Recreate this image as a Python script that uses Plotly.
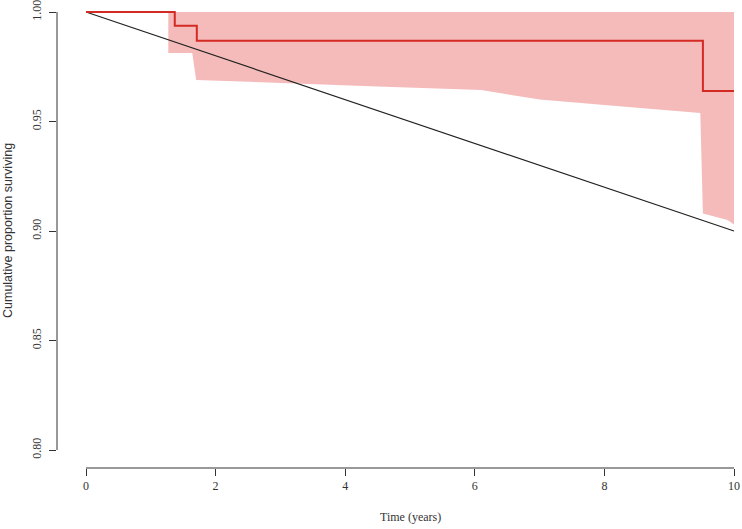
import plotly.graph_objects as go

# Kaplan-Meier estimate
km_time = [0, 1.37, 1.71, 9.52, 10.0]
km_surv = [1.0, 0.9937, 0.9869, 0.9639, 0.9639]

# confidence band
ci_time = [1.27, 1.64, 1.70, 3.0, 4.5, 6.1, 7.0, 8.0, 9.48, 9.52, 9.9, 10.0]
ci_lower = [0.9813, 0.9813, 0.969, 0.9675, 0.966, 0.9644, 0.960, 0.9575, 0.9539, 0.908, 0.905, 0.903]
ci_upper = [1.0] * len(ci_time)

# expected (reference) survival
ref_time = [0, 10]
ref_surv = [1.0, 0.90]

x_ticks = [0, 2, 4, 6, 8, 10]
y_ticks = [0.80, 0.85, 0.90, 0.95, 1.00]
y_ticklabels = ["0.80", "0.85", "0.90", "0.95", "1.00"]

serif = "Liberation Serif"
sans = "Liberation Sans"

fig = go.Figure()
fig.add_trace(go.Scatter(
    x=ci_time + ci_time[::-1], y=ci_lower + ci_upper[::-1],
    fill="toself", fillcolor="#F5BBBB", line=dict(width=0),
    mode="lines", hoverinfo="skip", showlegend=False))
fig.add_trace(go.Scatter(
    x=ref_time, y=ref_surv, mode="lines",
    line=dict(color="#222222", width=1.2), showlegend=False))
fig.add_trace(go.Scatter(
    x=km_time, y=km_surv, mode="lines", line_shape="hv",
    line=dict(color="#D42A24", width=2), showlegend=False))

# R-style detached axis lines
fig.add_shape(type="line", xref="x", yref="paper", x0=x_ticks[0], x1=x_ticks[-1], y0=0, y1=0,
              line=dict(color="#333333", width=1))
fig.add_shape(type="line", xref="paper", yref="y", x0=0, x1=0, y0=y_ticks[0], y1=y_ticks[-1],
              line=dict(color="#333333", width=1))

fig.add_annotation(text="Cumulative proportion surviving", textangle=-90,
                   xref="paper", yref="y", x=0, y=0.9, xanchor="center", yanchor="middle",
                   xshift=-49, showarrow=False, font=dict(family=sans, size=12.5, color="#333333"))
fig.add_annotation(text="Time (years)", xref="x", yref="paper", x=5, y=0,
                   xanchor="center", yanchor="middle", yshift=-49, showarrow=False,
                   font=dict(family=serif, size=12, color="#333333"))

fig.update_layout(
    width=742, height=529,
    margin=dict(l=57, r=2, t=5, b=61, autoexpand=False),
    paper_bgcolor="white", plot_bgcolor="white",
    xaxis=dict(range=[-0.4475, 10.0926], tickvals=x_ticks, ticks="outside", ticklen=7,
               tickcolor="#333333", showline=False, showgrid=False, zeroline=False,
               automargin=False, ticklabeloverflow="allow",
               tickfont=dict(family=serif, size=12, color="#333333")),
    yaxis=dict(range=[0.79178, 1.0032], tickvals=y_ticks, ticktext=y_ticklabels,
               ticks="outside", ticklen=7, tickcolor="#333333", tickangle=-90,
               showline=False, showgrid=False, zeroline=False, automargin=False,
               ticklabeloverflow="allow", ticklabelstandoff=3,
               tickfont=dict(family=serif, size=12, color="#333333")),
)

fig.write_html("out.html", config={"displayModeBar": False},
               post_script="document.body.style.margin='0';document.body.style.overflow='hidden';")
